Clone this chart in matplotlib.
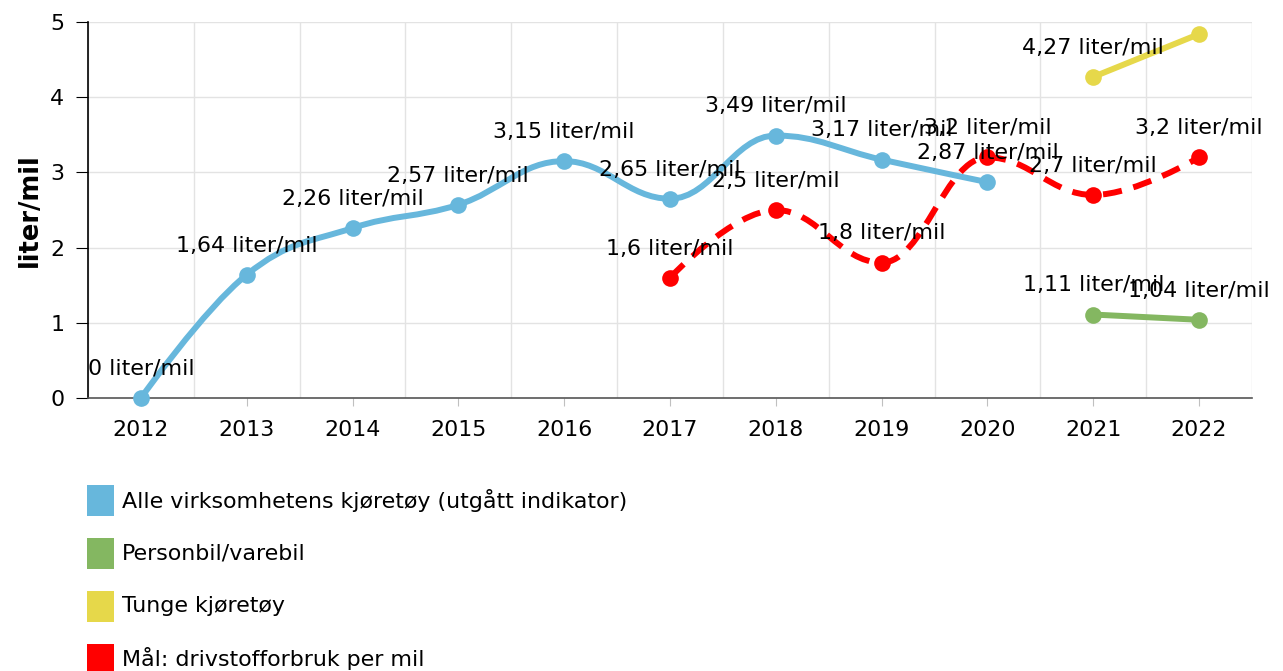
import matplotlib
matplotlib.use("Agg")
import matplotlib.pyplot as plt
from matplotlib.path import Path
from matplotlib.patches import PathPatch, Rectangle

years = ["2012", "2013", "2014", "2015", "2016", "2017", "2018", "2019", "2020", "2021", "2022"]

alle_x = [0, 1, 2, 3, 4, 5, 6, 7, 8]
alle_y = [0, 1.64, 2.26, 2.57, 3.15, 2.65, 3.49, 3.17, 2.87]
alle_lbl = ["0", "1,64", "2,26", "2,57", "3,15", "2,65", "3,49", "3,17", "2,87"]

person_x = [9, 10]
person_y = [1.11, 1.04]
person_lbl = ["1,11", "1,04"]

tunge_x = [9, 10]
tunge_y = [4.27, 4.84]
tunge_lbl = ["4,27", None]

maal_x = [5, 6, 7, 8, 9, 10]
maal_y = [1.6, 2.5, 1.8, 3.2, 2.7, 3.2]
maal_lbl = ["1,6", "2,5", "1,8", "3,2", "2,7", "3,2"]

names = ["Alle virksomhetens kjøretøy (utgått indikator)", "Personbil/varebil",
         "Tunge kjøretøy", "Mål: drivstofforbruk per mil"]
colors = ["#67b7dc", "#84b761", "#e6d84a", "#ff0000"]

plt.rcParams['font.family'] = ['DejaVu Sans']
FS = 15.9

fig = plt.figure(figsize=(12.83, 6.71), dpi=100)
ax = fig.add_axes([88/1283, 1-398/671, (1252-88)/1283, (398-22)/671])
ax.set_xlim(-0.5, 10.5)
ax.set_ylim(0, 5)


def spline_path(xs, ys, sx, sy):
    px = [x * sx for x in xs]
    py = [y * sy for y in ys]
    n = len(px)
    sm = 1.5
    den = sm + 1
    lc = [None] * n
    rc = [None] * n
    for i in range(1, n - 1):
        x, y = px[i], py[i]
        lx, ly = px[i-1], py[i-1]
        nx, ny = px[i+1], py[i+1]
        lcx = (sm * x + lx) / den
        lcy = (sm * y + ly) / den
        rcx = (sm * x + nx) / den
        rcy = (sm * y + ny) / den
        corr = 0
        if rcx != lcx:
            corr = ((rcy - lcy) * (rcx - x)) / (rcx - lcx) + y - rcy
        lcy += corr
        rcy += corr
        if lcy > ly and lcy > y:
            lcy = max(ly, y); rcy = 2 * y - lcy
        elif lcy < ly and lcy < y:
            lcy = min(ly, y); rcy = 2 * y - lcy
        if rcy > ny and rcy > y:
            rcy = max(ny, y); lcy = 2 * y - rcy
        elif rcy < ny and rcy < y:
            rcy = min(ny, y); lcy = 2 * y - rcy
        lc[i] = (lcx, lcy)
        rc[i] = (rcx, rcy)
    verts = [(px[0], py[0])]
    codes = [Path.MOVETO]
    for i in range(1, n):
        c1 = rc[i-1] if rc[i-1] else (px[i-1], py[i-1])
        c2 = lc[i] if lc[i] else (px[i], py[i])
        verts += [c1, c2, (px[i], py[i])]
        codes += [Path.CURVE4] * 3
    verts = [(vx / sx, vy / sy) for vx, vy in verts]
    return Path(verts, codes)

sx = 105.8
sy = 75.2

for v in [i + 0.5 for i in range(-1, 11)]:
    ax.axvline(v, color="#e3e3e3", lw=1, zorder=0)
for h in [1, 2, 3, 4, 5]:
    ax.axhline(h, color="#e3e3e3", lw=1, zorder=0)

series = [
    (alle_x, alle_y, alle_lbl, colors[0], "-"),
    (person_x, person_y, person_lbl, colors[1], "-"),
    (tunge_x, tunge_y, tunge_lbl, colors[2], "-"),
    (maal_x, maal_y, maal_lbl, colors[3], (0, (3.2, 2.0))),
]

for xs, ys, lbls, c, ls in series:
    path = spline_path(xs, ys, sx, sy)
    patch = PathPatch(path, facecolor="none", edgecolor=c, lw=4.3, linestyle=ls,
                      capstyle="butt", zorder=3)
    ax.add_patch(patch)
    ax.plot(xs, ys, "o", color=c, markersize=12, markeredgewidth=0, zorder=4,
            clip_on=False)

for xs, ys, lbls, c, ls in series:
    for x, y, l in zip(xs, ys, lbls):
        if l is None:
            continue
        ax.annotate(f"{l} liter/mil", (x, y), xytext=(0, 21), textcoords="offset points",
                    ha="center", va="center", fontsize=FS, color="black", zorder=6,
                    annotation_clip=False)

ax.set_xticks(range(len(years)))
ax.set_xticklabels(years, fontsize=FS)
ax.set_yticks([0, 1, 2, 3, 4, 5])
ax.set_yticklabels(["0", "1", "2", "3", "4", "5"], fontsize=FS)
ax.tick_params(axis="x", length=6, color="#c0c0c0", pad=10)
ax.tick_params(axis="y", length=9, color="black", pad=8)
for s in ["top", "right"]:
    ax.spines[s].set_visible(False)
ax.spines["left"].set_color("black")
ax.spines["left"].set_linewidth(1.2)
ax.spines["bottom"].set_color("#555555")
ax.spines["bottom"].set_linewidth(1.2)
ax.set_ylabel("liter/mil", fontsize=18.5, fontweight="bold", labelpad=5)

# legend
rows = [500.5, 553.5, 606, 659]
for name, c, ry in zip(names, colors, rows):
    fig.patches.append(Rectangle((87/1283, 1-(ry+15.5)/671), 27/1283, 31/671,
                                 transform=fig.transFigure, facecolor=c, edgecolor="none"))
    fig.text(122/1283, 1-ry/671, name, fontsize=FS, va="center", ha="left")

fig.savefig("out.png", dpi=100)
